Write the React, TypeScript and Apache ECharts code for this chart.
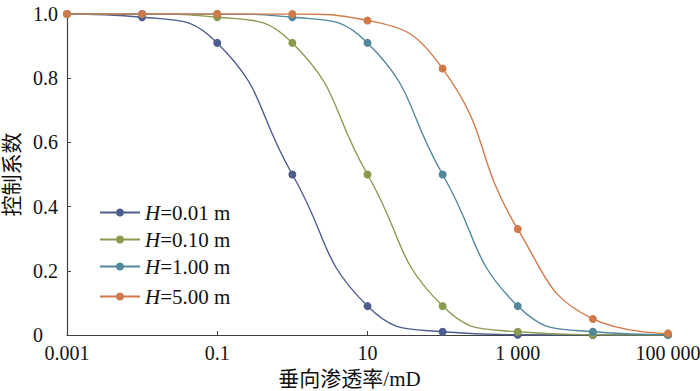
import React, { useEffect, useRef } from "react";
import * as echarts from "echarts";

const permeability = [0.001, 0.01, 0.1, 1, 10, 100, 1000, 10000, 100000];
const seriesNames = ["H=0.01 m", "H=0.10 m", "H=1.00 m", "H=5.00 m"];
const h001 = [1.0, 0.99, 0.91, 0.5, 0.09, 0.01, 0.001, 0, 0];
const h010 = [1.0, 1.0, 0.99, 0.91, 0.5, 0.09, 0.01, 0.001, 0];
const h100 = [1.0, 1.0, 1.0, 0.99, 0.91, 0.5, 0.09, 0.01, 0.001];
const h500 = [1.0, 1.0, 1.0, 1.0, 0.98, 0.83, 0.33, 0.05, 0.005];
const xTickLabels = ["0.001", "0.1", "10", "1 000", "100 000"];
const yTickLabels = ["0", "0.2", "0.4", "0.6", "0.8", "1.0"];
const colors = ["#4e5d8f", "#8a9a50", "#51879a", "#d07a4a"];
const legendTops = [202, 229, 256, 286];

const FONT = "'Liberation Serif', 'Times New Roman', 'Noto Sans CJK SC', serif";

export default function App() {
  const ref = useRef<HTMLDivElement>(null);
  useEffect(() => {
    if (!ref.current) return;
    const chart = echarts.init(ref.current, null, { renderer: "svg" });
    const allData = [h001, h010, h100, h500];
    const series = allData.map((vals, i) => ({
      name: seriesNames[i],
      type: "line",
      smooth: 0.5,
      symbol: "circle",
      symbolSize: 8,
      showSymbol: true,
      lineStyle: { width: 1.4, color: colors[i] },
      itemStyle: { color: colors[i] },
      data: vals.map((v, j) => [Math.log10(permeability[j]), v]),
      z: 2 + i,
    }));
    const legends = seriesNames.map((n, i) => ({
      data: [n],
      left: 99,
      top: legendTops[i],
      padding: 0,
      orient: "vertical",
      itemWidth: 40,
      itemHeight: 10,
      itemGap: 0,
      formatter: (name: string) => "{i|H}{n|" + name.slice(1) + "}",
      textStyle: {
        fontSize: 21,
        fontFamily: FONT,
        color: "#111",
        rich: {
          i: { fontStyle: "italic", fontSize: 21, fontFamily: FONT, color: "#111" },
          n: { fontSize: 21, fontFamily: FONT, color: "#111" },
        },
      },
    }));
    chart.setOption({
      animation: false,
      backgroundColor: "#fff",
      grid: { left: 67, right: 32, top: 14, bottom: 56, containLabel: false, outerBoundsMode: "none" },
      legend: legends,
      xAxis: {
        type: "value",
        min: -3,
        max: 5,
        interval: 2,
        name: "垂向渗透率/mD",
        nameLocation: "middle",
        nameGap: 33,
        nameTextStyle: {
          fontSize: 21,
          fontFamily: FONT,
          color: "#111",
          padding: [0, 36, 0, 0],
        },
        axisLine: { show: true, onZero: false, lineStyle: { color: "#404040", width: 1.2 } },
        axisTick: { show: true, inside: true, length: 4, lineStyle: { color: "#404040" } },
        axisLabel: {
          fontSize: 20,
          fontFamily: FONT,
          color: "#111",
          margin: 8,
          formatter: (v: number) => {
            const idx = Math.round((v + 3) / 2);
            return xTickLabels[idx] ?? "";
          },
        },
        splitLine: { show: false },
      },
      yAxis: {
        type: "value",
        min: 0,
        max: 1,
        interval: 0.2,
        name: "控制系数",
        nameLocation: "middle",
        nameGap: 37,
        nameTextStyle: { fontSize: 21, fontFamily: FONT, color: "#111" },
        axisLine: { show: true, onZero: false, lineStyle: { color: "#404040", width: 1.2 } },
        axisTick: { show: true, inside: true, length: 4, lineStyle: { color: "#404040" } },
        axisLabel: {
          fontSize: 20,
          fontFamily: FONT,
          color: "#111",
          margin: 34,
          align: "left",
          formatter: (v: number) => yTickLabels[Math.round(v / 0.2)] ?? "",
        },
        splitLine: { show: false },
      },
      series,
    });
    return () => chart.dispose();
  }, []);
  return <div ref={ref} style={{ width: 700, height: 391, position: "absolute", left: 0, top: 0 }} />;
}
